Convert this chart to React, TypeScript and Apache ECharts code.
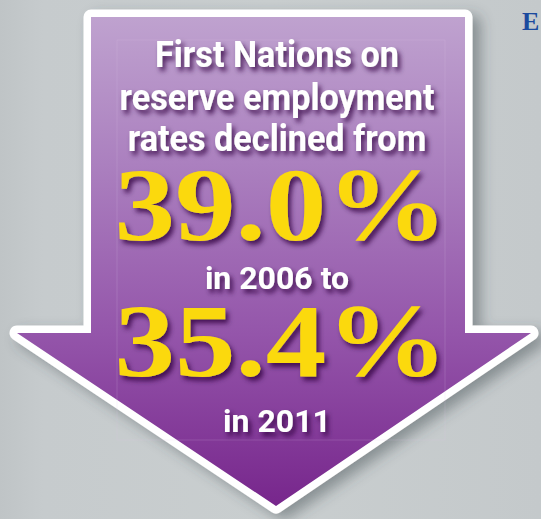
import React, { useEffect, useRef } from "react";
import * as echarts from "echarts";

const headlineLines = ["First Nations on", "reserve employment", "rates declined from"];
const years = [2006, 2011];
const rates = [39.0, 35.4];
const cornerLetter = "E";

export default function App() {
  const ref = useRef<HTMLDivElement>(null);
  useEffect(() => {
    const chart = echarts.init(ref.current!, null, { renderer: "svg" });
    const cx = 277;

    const innerArrow = [
      [91, 17], [465, 17], [465, 333], [531, 333], [276, 506], [17, 333], [91, 333],
    ];

    const shadowStyle = {
      textShadowColor: "rgba(45,0,65,0.8)",
      textShadowBlur: 5,
      textShadowOffsetX: 3,
      textShadowOffsetY: 4,
    };

    const lineY = [55, 98, 139];
    const sansText = (text: string, y: number, size: number, sx: number) => ({
      type: "text",
      x: cx,
      y,
      scaleX: sx,
      z: 20,
      style: {
        text,
        x: 0,
        y: 0,
        align: "center",
        verticalAlign: "middle",
        fill: "#ffffff",
        font: `bold ${size}px Roboto, "Liberation Sans", sans-serif`,
        ...shadowStyle,
      },
    });
    const bigText = (text: string, y: number) => ({
      type: "text",
      x: cx + 4,
      y,
      scaleX: 1.165,
      z: 20,
      style: {
        text,
        x: 0,
        y: 0,
        align: "center",
        verticalAlign: "middle",
        fill: "#fbd90f",
        font: `bold 104px "Liberation Serif", "DejaVu Serif", serif`,
        ...shadowStyle,
      },
    });

    chart.setOption({
      animation: false,
      backgroundColor: {
        type: "linear",
        x: 0, y: 0, x2: 1, y2: 0,
        colorStops: [
          { offset: 0, color: "#bfc4c6" },
          { offset: 0.08, color: "#c6cbcd" },
          { offset: 0.5, color: "#c9cecf" },
          { offset: 1, color: "#c4c9cb" },
        ],
      },
      graphic: [
        {
          type: "polygon",
          z: 5,
          shape: { points: innerArrow },
          style: {
            fill: "#ffffff",
            stroke: "#ffffff",
            lineWidth: 15,
            lineJoin: "round",
            shadowColor: "rgba(60,70,75,0.45)",
            shadowBlur: 14,
            shadowOffsetX: 8,
            shadowOffsetY: 6,
          },
        },
        {
          type: "polygon",
          z: 6,
          shape: { points: innerArrow },
          style: {
            fill: {
              type: "linear",
              x: 0, y: 0, x2: 0, y2: 1, global: false,
              colorStops: [
                { offset: 0, color: "#bfa2cf" },
                { offset: 0.3, color: "#ab80bf" },
                { offset: 0.65, color: "#9455aa" },
                { offset: 1, color: "#77268c" },
              ],
            },
          },
        },
        {
          type: "rect",
          z: 7,
          shape: { x: 117, y: 40, width: 328, height: 400 },
          style: { fill: "none", stroke: "rgba(230,200,240,0.18)", lineWidth: 1 },
        },
        ...headlineLines.map((t, i) => sansText(t, lineY[i], 36, 0.95)),
        bigText(`${rates[0].toFixed(1)}%`, 205),
        sansText(`in ${years[0]} to`, 278, 32, 1.0),
        bigText(`${rates[1].toFixed(1)}%`, 341),
        sansText(`in ${years[1]}`, 421, 32, 1.0),
        {
          type: "text",
          x: 522,
          y: 21,
          z: 20,
          style: {
            text: cornerLetter,
            x: 0,
            y: 0,
            align: "left",
            verticalAlign: "middle",
            fill: "#1b4a9e",
            font: `bold 26px "Liberation Serif", serif`,
          },
        },
      ],
    });
    return () => chart.dispose();
  }, []);
  return (
    <div
      ref={ref}
      style={{ position: "fixed", left: 0, top: 0, width: 541, height: 519 }}
    />
  );
}
